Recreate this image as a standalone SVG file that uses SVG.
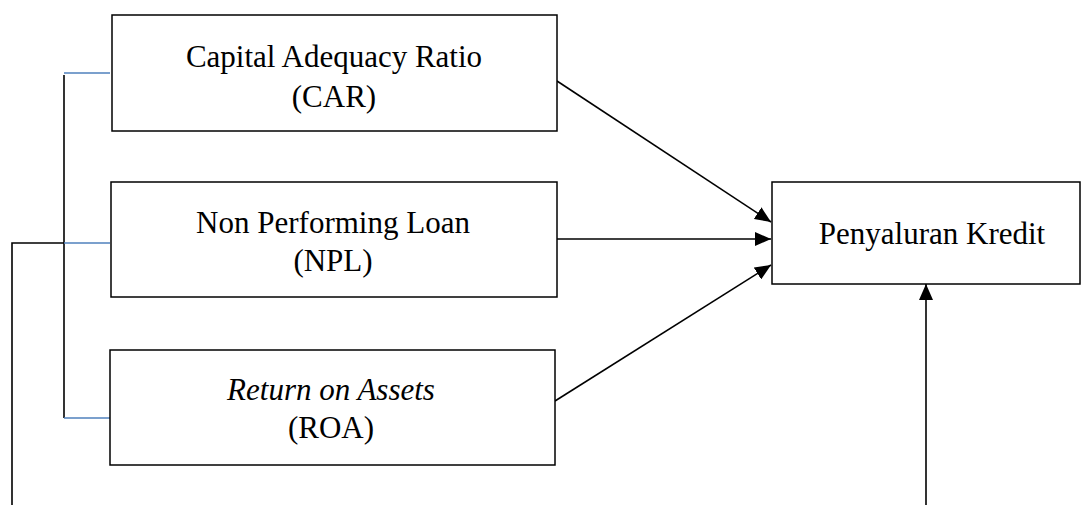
<svg xmlns="http://www.w3.org/2000/svg" width="1085" height="505" viewBox="0 0 1085 505">
<style>
.box{fill:#fff;stroke:#000;stroke-width:1.5}
.t{font-family:"Liberation Serif","Times New Roman",serif;font-size:31px;fill:#000;text-anchor:middle}
.ln{stroke:#000;stroke-width:1.6;fill:none}
.bl{stroke:#4f81bd;stroke-width:1.5;fill:none}
</style>
<defs>
<marker id="ah" markerWidth="17" markerHeight="14" refX="16" refY="7" orient="auto" markerUnits="userSpaceOnUse">
<path d="M0,0 L16,7 L0,14 Z" fill="#000"/>
</marker>
</defs>
<g id="connectors">
<line class="ln" x1="64" y1="75" x2="64" y2="418"/>
<line class="bl" x1="64" y1="73" x2="110" y2="73"/>
<line class="bl" x1="64" y1="243" x2="110" y2="243"/>
<line class="bl" x1="64" y1="418" x2="110" y2="418"/>
<polyline class="ln" points="64,243 12,243 12,505"/>
<line class="ln" x1="557" y1="81" x2="771" y2="222" marker-end="url(#ah)"/>
<line class="ln" x1="557" y1="239" x2="771" y2="239" marker-end="url(#ah)"/>
<line class="ln" x1="555" y1="401" x2="771" y2="265" marker-end="url(#ah)"/>
<line class="ln" x1="926" y1="505" x2="926" y2="284" marker-end="url(#ah)"/>
</g>
<g id="car">
<rect class="box" x="112" y="15" width="445" height="116"/>
<text class="t" x="334" y="67">Capital Adequacy Ratio</text>
<text class="t" x="334" y="107">(CAR)</text>
</g>
<g id="npl">
<rect class="box" x="111" y="182" width="446" height="115"/>
<text class="t" x="333" y="233">Non Performing Loan</text>
<text class="t" x="333" y="271">(NPL)</text>
</g>
<g id="roa">
<rect class="box" x="110" y="350" width="445" height="115"/>
<text class="t" x="331" y="400" font-style="italic">Return on Assets</text>
<text class="t" x="331" y="438">(ROA)</text>
</g>
<g id="kredit">
<rect class="box" x="772" y="182" width="308" height="102"/>
<text class="t" x="932" y="244">Penyaluran Kredit</text>
</g>
</svg>
